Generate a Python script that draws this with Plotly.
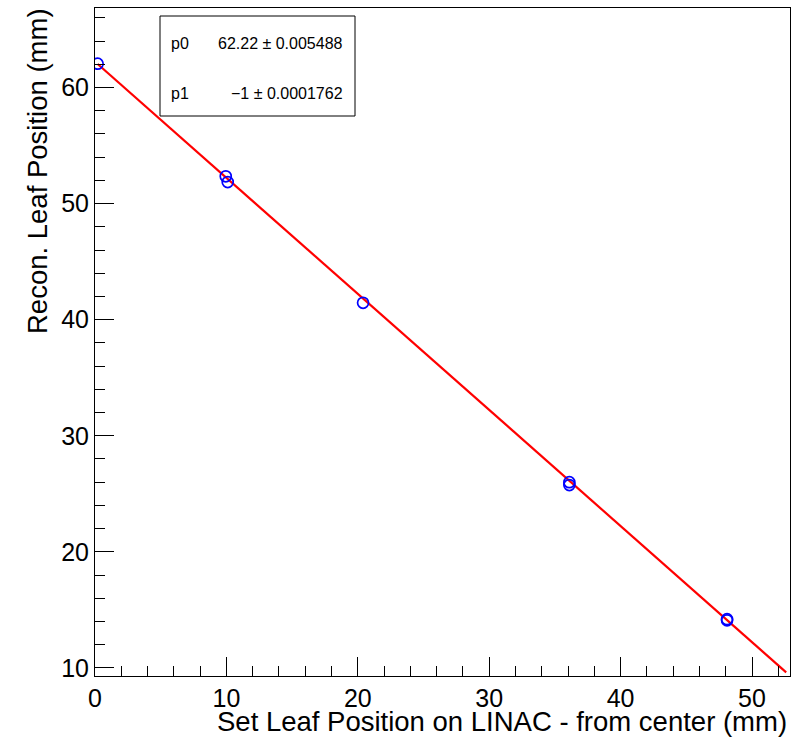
import plotly.graph_objects as go

# ---- data ----
set_pos = [0.2, 9.95, 10.1, 20.4, 36.1, 36.1, 48.1, 48.1]
recon_pos = [62.05, 52.35, 51.85, 41.45, 26.0, 25.75, 14.2, 14.1]

fit_labels = ["p0", "p1"]
fit_values = ["62.22 \u00b1 0.005488", "\u22121 \u00b1 0.0001762"]
p0, p1 = 62.22, -1.0
fit_x = [0.2, 52.6]
fit_y = [p0 + p1 * x for x in fit_x]

x_title = "Set Leaf Position on LINAC - from center (mm)"
y_title = "Recon. Leaf Position (mm)"

# ROOT-like automatic axis range (10% padding, clamp at 0)
dx = max(set_pos) - min(set_pos)
dy = max(recon_pos) - min(recon_pos)
x_lo = max(0.0, min(set_pos) - 0.1 * dx)
x_hi = max(set_pos) + 0.1 * dx
y_lo = min(recon_pos) - 0.1 * dy
y_hi = max(recon_pos) + 0.1 * dy

W, H = 792, 738
L, R, T, B = 95, 2, 8, 62
pw, ph = W - L - R, H - T - B

def px(xp):
    return (xp - L) / pw

def py(yp):
    return 1 - (yp - T) / ph

FONT = "Liberation Sans, Arial, Helvetica, sans-serif"

fig = go.Figure()
fig.add_trace(go.Scatter(
    x=fit_x, y=fit_y, mode="lines",
    line=dict(color="#ff0000", width=2.2), showlegend=False, hoverinfo="skip"))
fig.add_trace(go.Scatter(
    x=set_pos, y=recon_pos, mode="markers",
    marker=dict(symbol="circle-open", size=11, color="#0000ff",
                line=dict(width=1.7, color="#0000ff")),
    showlegend=False))

axis_common = dict(
    showgrid=False, zeroline=False, showline=True, linecolor="black",
    linewidth=1, mirror=True, ticks="inside", tickcolor="black",
    tickwidth=1, ticklen=19, automargin=False,
    tickfont=dict(family=FONT, size=25, color="black"),
)

fig.update_xaxes(range=[x_lo, x_hi], dtick=10, tick0=0,
                 minor=dict(ticks="inside", ticklen=10, dtick=2, tickcolor="black", tickwidth=1),
                 **axis_common)
fig.update_yaxes(range=[y_lo, y_hi], dtick=10, tick0=0,
                 minor=dict(ticks="inside", ticklen=10, dtick=2, tickcolor="black", tickwidth=1),
                 **axis_common)

# stats box
fig.add_shape(type="rect", xref="paper", yref="paper",
              x0=px(160), x1=px(355), y0=py(116), y1=py(16),
              line=dict(color="black", width=1), fillcolor="white", layer="above")
for i, (lab, val) in enumerate(zip(fit_labels, fit_values)):
    yy = py(43 + i * 51)
    fig.add_annotation(xref="paper", yref="paper", x=px(169), y=yy, text=lab,
                       showarrow=False, xanchor="left", yanchor="middle",
                       font=dict(family=FONT, size=16, color="black"))
    fig.add_annotation(xref="paper", yref="paper", x=px(345), y=yy, text=val,
                       showarrow=False, xanchor="right", yanchor="middle",
                       font=dict(family=FONT, size=16, color="black"))

# axis titles (ROOT style: right/top aligned)
fig.add_annotation(xref="paper", yref="paper", x=px(789), y=py(721), text=x_title,
                   showarrow=False, xanchor="right", yanchor="middle",
                   font=dict(family=FONT, size=27.5, color="black"))
fig.add_annotation(xref="paper", yref="paper", x=px(37), y=py(6), text=y_title,
                   textangle=-90, showarrow=False, xanchor="center", yanchor="top",
                   font=dict(family=FONT, size=27.5, color="black"))

fig.update_layout(
    width=W, height=H, autosize=False,
    margin=dict(l=L, r=R, t=T, b=B),
    paper_bgcolor="white", plot_bgcolor="white",
    showlegend=False,
)

fig.write_html("out.html", config={"displayModeBar": False},
               post_script="document.body.style.margin='0px';document.body.style.padding='0px';")
